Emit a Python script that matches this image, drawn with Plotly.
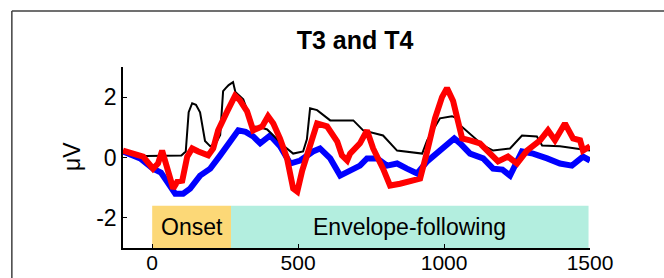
import plotly.graph_objects as go

# ---- data ----
black_x = [-100, -60, -20, 0, 100, 115, 125, 137, 150, 164, 181, 199, 220, 233, 243, 252, 262, 277, 285, 312, 346, 370, 394, 415, 449, 483, 517, 530, 541, 565, 610, 667, 689, 723, 791, 839, 925, 942, 986, 1027, 1044, 1055, 1134, 1168, 1226, 1267, 1318, 1336, 1397, 1500]
black_y = [0.2, 0.1, 0.05, 0.05, 0.07, 0.2, 1.5, 1.8, 1.75, 1.5, 0.55, 0.37, 0.5, 0.75, 2.2, 2.3, 2.4, 2.5, 2.17, 1.93, 1.03, 1.0, 0.93, 0.73, 0.4, 0.13, 0.2, 0.6, 1.63, 1.57, 1.23, 1.23, 1.23, 0.9, 0.73, 0.23, 0.13, 0.57, 1.3, 1.37, 1.3, 1.07, 0.4, 0.23, 0.3, 0.73, 0.7, 0.4, 0.37, 0.23]

blue_x = [-100, -70, -41, 3, 30, 51, 79, 106, 130, 164, 199, 233, 267, 295, 320, 346, 370, 404, 438, 473, 507, 551, 575, 610, 644, 678, 712, 736, 771, 805, 839, 873, 908, 942, 976, 1010, 1035, 1055, 1089, 1134, 1168, 1200, 1226, 1267, 1305, 1353, 1397, 1438, 1476, 1500]
blue_y = [0.2, 0.1, -0.03, -0.37, -0.5, -0.8, -1.2, -1.2, -1.03, -0.6, -0.37, 0.07, 0.55, 0.9, 0.85, 0.7, 0.47, 0.73, 0.37, -0.2, -0.1, 0.2, 0.3, -0.03, -0.6, -0.43, -0.27, -0.03, -0.03, -0.27, -0.2, -0.37, -0.53, -0.13, 0.13, 0.4, 0.63, 0.47, 0.13, -0.03, -0.37, -0.4, -0.6, 0.2, 0.13, -0.03, -0.2, -0.27, 0.03, -0.1]

red_x = [-100, -65, -31, 3, 20, 34, 51, 72, 86, 103, 120, 137, 158, 192, 209, 226, 257, 274, 284, 300, 325, 346, 377, 397, 415, 438, 462, 483, 497, 514, 534, 565, 599, 634, 650, 668, 678, 712, 736, 757, 791, 815, 849, 884, 918, 942, 969, 993, 1010, 1031, 1045, 1062, 1089, 1123, 1158, 1185, 1219, 1250, 1284, 1329, 1356, 1380, 1414, 1442, 1466, 1476, 1500]
red_y = [0.23, 0.13, 0.03, -0.37, -0.2, 0.23, -0.37, -1.03, -0.8, -0.77, 0.03, 0.3, 0.2, 0.07, 0.3, 0.9, 1.53, 1.87, 2.05, 1.9, 1.53, 0.9, 1.03, 1.37, 1.13, 0.63, -0.03, -1.03, -1.13, -0.43, 0.13, 1.13, 1.03, 0.53, 0.07, -0.1, 0.13, 0.47, 0.9, 0.3, -0.37, -0.93, -0.87, -0.8, -0.7, 0.2, 1.3, 2.0, 2.3, 1.87, 1.2, 0.63, 0.57, 0.47, 0.13, -0.13, 0.03, -0.2, 0.23, 0.57, 0.9, 0.57, 1.13, 0.63, 0.57, 0.23, 0.37]

x_ticks = [0, 500, 1000, 1500]
y_ticks = [-2, 0, 2]
y_tick_labels = ["-2", "0", "2"]

onset_range = [0, 270]
envelope_range = [270, 1495]
band_y = [-3, -1.6]
band_labels = ["Onset", "Envelope-following"]

FONT = "Liberation Sans, Arial, sans-serif"

fig = go.Figure()
fig.add_trace(go.Scatter(x=blue_x, y=blue_y, mode="lines", line=dict(color="#0000FF", width=6), showlegend=False))
fig.add_trace(go.Scatter(x=black_x, y=black_y, mode="lines", line=dict(color="black", width=2), showlegend=False))
fig.add_trace(go.Scatter(x=red_x, y=red_y, mode="lines", line=dict(color="#FF0000", width=6), showlegend=False))

for rng, col, lab in [(onset_range, "#FCD877", band_labels[0]), (envelope_range, "#B3EEDF", band_labels[1])]:
    fig.add_shape(type="rect", xref="x", yref="y", x0=rng[0], x1=rng[1], y0=band_y[0], y1=band_y[1],
                  fillcolor=col, line=dict(width=0), layer="below")
    fig.add_annotation(x=(rng[0] + rng[1]) / 2, y=(band_y[0] + band_y[1]) / 2, xref="x", yref="y",
                       text=lab, showarrow=False, font=dict(family=FONT, size=23, color="black"))

# outer frame (left and top edges)
fig.add_shape(type="line", xref="paper", yref="paper", x0=-0.238, x1=1.3, y0=1.309, y1=1.309,
              line=dict(color="#404040", width=1.5))
fig.add_shape(type="line", xref="paper", yref="paper", x0=-0.238, x1=-0.238, y0=1.309, y1=-0.3,
              line=dict(color="#404040", width=1.5))

fig.add_annotation(x=-0.109, y=0.503, xref="paper", yref="paper", text="μV", textangle=-90,
                   xanchor="center", yanchor="middle",
                   showarrow=False, font=dict(family=FONT, size=23, color="black"))

fig.update_layout(
    width=664, height=278,
    margin=dict(l=123, r=74, t=67, b=30, autoexpand=False),
    paper_bgcolor="white", plot_bgcolor="white",
    title=dict(text="<b>T3 and T4</b>", x=0.497, xref="paper", xanchor="center",
               y=0.856, yanchor="middle", font=dict(family=FONT, size=25, color="black")),
    font=dict(family=FONT, size=23, color="black"),
)
fig.update_xaxes(range=[-100, 1500], tickvals=x_ticks, ticks="inside", ticklen=4, tickcolor="black",
                 showline=True, linecolor="black", linewidth=1.5, showgrid=False, zeroline=False,
                 automargin=False, ticklabelstandoff=-5, tickfont=dict(family=FONT, size=21, color="black"))
fig.update_yaxes(range=[-3, 3], tickvals=y_ticks, ticktext=y_tick_labels, ticks="inside", ticklen=4,
                 tickcolor="black", showline=True, linecolor="black", linewidth=1.5, showgrid=False,
                 zeroline=False, automargin=False, tickfont=dict(family=FONT, size=23, color="black"))

fig.write_html("out.html", config={"displayModeBar": False},
               post_script="document.body.style.margin='0';")
